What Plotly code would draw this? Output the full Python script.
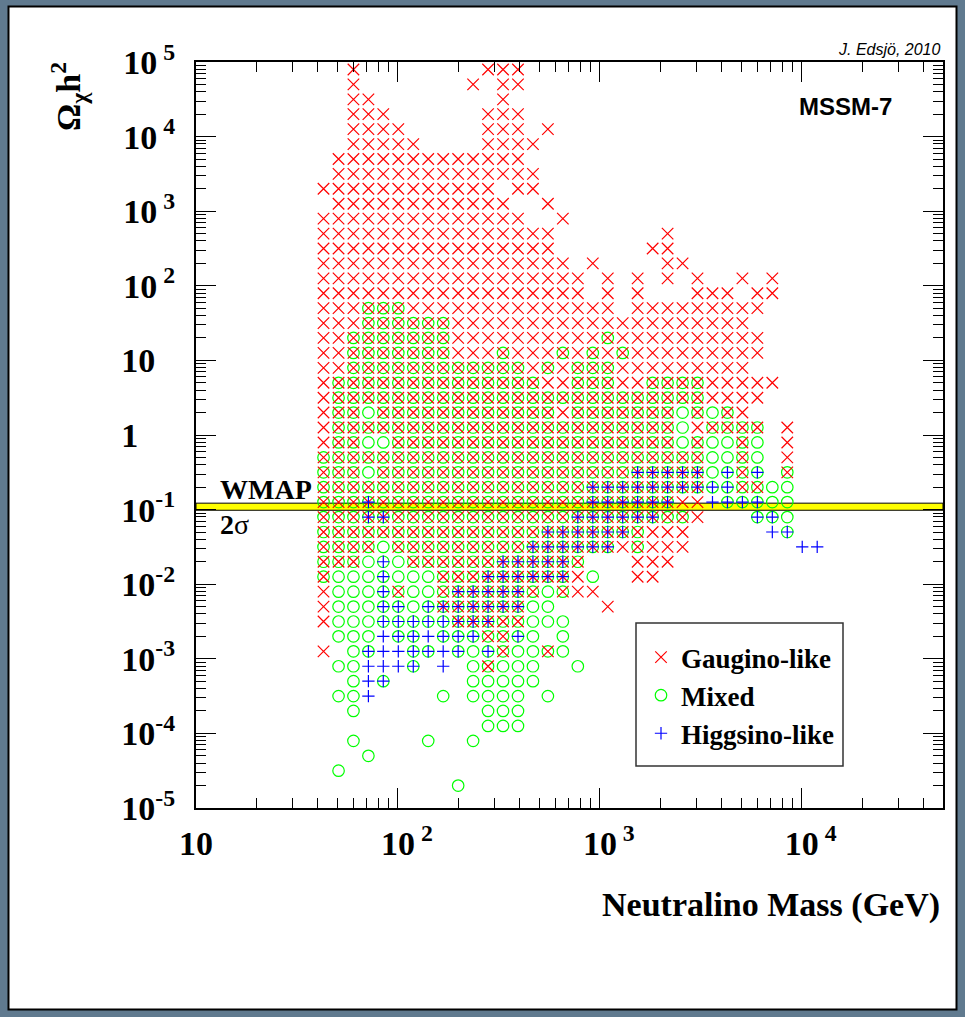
import plotly.graph_objects as go

# ---------------- data ----------------
# neutralino mass of each column of the scan grid (GeV)
mass_gev = [42.8, 50.8, 60.2, 71.4, 84.6, 100.4, 119.1, 141.2, 167.5, 198.7,
            235.6, 279.4, 331.4, 393.0, 466.1, 552.7, 655.5, 777.5, 922.2, 1094,
            1297, 1538, 1825, 2164, 2567, 3043, 3610, 4282, 5078, 6023,
            7143, 8470, 10045, 11914]

# relic density of each row of the scan grid (Omega h^2), top row first
omega_h2 = [7.94e4, 5.01e4, 3.16e4, 2.00e4, 1.26e4, 7.94e3, 5.01e3, 3.16e3, 2.00e3, 1.26e3,
            794, 501, 316, 200, 126, 79.4, 50.1, 31.6, 20.0, 12.6,
            7.94, 5.01, 3.16, 2.00, 1.26, 0.794, 0.501, 0.316, 0.200, 0.126,
            0.0794, 0.0501, 0.0316, 0.0200, 0.0126, 7.94e-3, 5.01e-3, 3.16e-3, 2.00e-3, 1.26e-3,
            7.94e-4, 5.01e-4, 3.16e-4, 2.00e-4, 1.26e-4, 7.94e-5, 5.01e-5, 3.16e-5, 2.00e-5]

# occupancy of each (row, column) cell; one string per row, columns in groups of 5
# x = gaugino-like, o = mixed, h = higgsino-like,
# a = gaugino+mixed, b = mixed+higgsino, c = all three, . = empty
model_grid = [
    "..x.. ..... .xxx. ..... ..... ..... ....",
    "..x.. ..... x.xx. ..... ..... ..... ....",
    "..xx. ..... ..x.. ..... ..... ..... ....",
    "..xxx ..... .xxx. ..... ..... ..... ....",
    "..xxx x.... .xxx. x.... ..... ..... ....",
    "..xxx xx... .xxxx ..... ..... ..... ....",
    ".xxxx xxxxx xxxx. ..... ..... ..... ....",
    ".xxxx xxxxx xxxxx ..... ..... ..... ....",
    "xxxxx xxxxx xx.xx ..... ..... ..... ....",
    ".xxxx xxxxx xxx.. x.... ..... ..... ....",
    "xxxxx xxxxx xxxx. .x... ..... ..... ....",
    "xxxxx xxxxx xxxxx x.... ...x. ..... ....",
    "xxxxx xxxxx xxxxx x.... ..xx. ..... ....",
    "xxxxx xxxxx xxxxx xx.x. ...xx ..... ....",
    "xxxxx xxxxx xxxxx xxx.x .x.x. x..x. x...",
    "xxxxx xxxxx xxxxx xxx.x .x... xxx.x x...",
    "xxxaa axxxx xxxxx xxxxx .xxxx xxxxx ....",
    "xxxaa aaaax xxxxx xxxxx xxxxx xxxx. ....",
    "xxaaa aaaax xxxxx xxxxa xxxxx xxxxx ....",
    "xxaaa aaaax xxaxx xaxax axxxx xxxxx ....",
    "xxaaa aaaaa aaaax axaaa xxxxx xxxx. ....",
    "xaaaa aaaaa aaaaa xxaaa xxaaa axxxx x...",
    "xaaaa aaaaa aaaaa aaaaa aaaaa axxxx ....",
    "xaaoa aaaaa aaaaa axaaa aaaao aoax. ....",
    "xaaaa aaaaa aaaaa aaaaa aaaao xaaaa .x..",
    "xaaoo aaaaa aaaaa aaaaa aaaao aooao .x..",
    "aaaaa aaaaa aaaaa aaaaa aaaaa aooao .x..",
    "aaaoa aaaaa aaaaa aaaaa acccc cobab .a..",
    "aaaaa aaaaa aaaaa aaacc ccccc cbbaa oo..",
    "aaaca aaaaa aaaaa aaacc ccccx xhbbb oo..",
    "aaacc aaaaa aaaaa aaccc cccaa x...b bo..",
    "aaaaa aaaaa aaaaa ccccc caxxx ..... hb..",
    "aaaao aaaaa aaaac ccccc xaxxx ..... ..hh",
    "aaaob oaaaa aaccc cca.. .xxx. ..... ....",
    "aooob oooaa acccc ccxo. .xx.. ..... ....",
    "xooob aooac cccca oaxx. ..... ..... ....",
    "xooob bobcc cccco o...x ..... ..... ....",
    "xooob bbbbc ccaao oo... ..... ..... ....",
    ".oooh bbhbb baabo .o... ..... ..... ....",
    "x.obh hbbhb obaoo ao... ..... ..... ....",
    ".oohh hb.h. oaooo ..o.. ..... ..... ....",
    "..ohb ..... ooooo ..... ..... ..... ....",
    ".ooh. ...o. oooo. o.... ..... ..... ....",
    "..o.. ..... .ooo. ..... ..... ..... ....",
    "..... ..... .ooo. ..... ..... ..... ....",
    "..o.. ..o.. o.... ..... ..... ..... ....",
    "...o. ..... ..... ..... ..... ..... ....",
    ".o... ..... ..... ..... ..... ..... ....",
    "..... ....o ..... ..... ..... ..... ....",
]

series_names = ["Gaugino-like", "Mixed", "Higgsino-like"]
series_codes = {"Gaugino-like": "xac", "Mixed": "oabc", "Higgsino-like": "hbc"}

wmap_low, wmap_high = 0.098, 0.122          # WMAP 2 sigma band
x_range_gev = [10, 50000]
x_tick_exponents = [1, 2, 3, 4]
y_tick_exponents = [5, 4, 3, 2, 1, 0, -1, -2, -3, -4, -5]

# ---------------- styles ----------------
SERIF = "Liberation Serif"
SANS = "Liberation Sans"
styles = {
    "Gaugino-like": dict(symbol="x-thin", size=11.5, color="#ff0000"),
    "Mixed": dict(symbol="circle-open", size=11.5, color="#00ff00"),
    "Higgsino-like": dict(symbol="cross-thin", size=8.8, color="#0000ff"),
}
draw_order = ["Mixed", "Gaugino-like", "Higgsino-like"]


def series_points(codes):
    xs, ys = [], []
    for r, row in enumerate(model_grid):
        cells = row.replace(" ", "")
        for c, ch in enumerate(cells):
            if ch in codes:
                xs.append(mass_gev[c])
                ys.append(omega_h2[r])
    return xs, ys


def clear(txt):
    return "<span style='color:rgba(0,0,0,0)'>" + txt + "</span>"


def y_label(n):
    if n == 0:
        return "1" + clear("0") + "<sup>" + clear("-1") + "</sup>"
    if n == 1:
        return "10<sup>" + clear("-1") + "</sup>"
    if n > 1:
        return "10<sup>\u00a0%d</sup>" % n
    return "10<sup>%d</sup>" % n


def x_label(n):
    if n == 1:
        return "10"
    return "<sup>" + clear("\u00a0%d" % n) + "</sup>10<sup>\u00a0%d</sup>" % n


fig = go.Figure()

# WMAP band
fig.add_trace(go.Scatter(
    x=[x_range_gev[0], x_range_gev[1], x_range_gev[1], x_range_gev[0], x_range_gev[0]],
    y=[wmap_low, wmap_low, wmap_high, wmap_high, wmap_low],
    mode="lines", fill="toself", fillcolor="#ffff00",
    line=dict(color="black", width=1), showlegend=False, hoverinfo="skip"))

for name in draw_order:
    xs, ys = series_points(series_codes[name])
    st = styles[name]
    fig.add_trace(go.Scatter(
        x=xs, y=ys, mode="markers", name=name,
        legendrank=series_names.index(name) + 1,
        marker=dict(symbol=st["symbol"], size=st["size"], color=st["color"],
                    line=dict(color=st["color"], width=1.2))))

W, H = 965, 1017
L, R, T, B = 196, 22, 62, 209
pw, ph = W - L - R, H - T - B


def px(x):
    return (x - L) / pw


def py(y):
    return (H - B - y) / ph


axis_common = dict(
    type="log", showline=True, linecolor="black", linewidth=2, mirror="ticks",
    ticks="inside", ticklen=20, tickwidth=1, tickcolor="black",
    showgrid=False, zeroline=False,
    tickfont=dict(family=SERIF, size=34, color="black", weight="bold"),
    minor=dict(ticks="inside", ticklen=10, tickwidth=1, tickcolor="black",
               dtick="D1", showgrid=False),
)

fig.update_layout(
    width=W, height=H, autosize=False,
    margin=dict(l=L, r=R, t=T, b=B, pad=0),
    paper_bgcolor="#607a8f", plot_bgcolor="white",
    showlegend=True,
    legend=dict(x=px(641), y=py(633), xanchor="left", yanchor="top",
                bgcolor="rgba(0,0,0,0)", borderwidth=0,
                font=dict(family=SERIF, size=27, color="black", weight="bold"),
                itemsizing="trace", tracegroupgap=0),
    xaxis=dict(axis_common, range=[1, 4.699],
               tickvals=[10 ** n for n in x_tick_exponents],
               ticktext=[x_label(n) for n in x_tick_exponents],
               ticklabelstandoff=4),
    yaxis=dict(axis_common, range=[-5, 5],
               tickvals=[10 ** n for n in y_tick_exponents],
               ticktext=[y_label(n) for n in y_tick_exponents],
               ticklabelstandoff=12),
)

# white canvas with black frame, and legend box
fig.add_shape(type="rect", xref="paper", yref="paper",
              x0=px(8.5), x1=px(956.5), y0=py(1009.5), y1=py(6.5),
              line=dict(color="black", width=2), fillcolor="white", layer="below")
fig.add_shape(type="rect", xref="paper", yref="paper",
              x0=px(636), x1=px(843), y0=py(766), y1=py(623),
              line=dict(color="#333333", width=1.5), fillcolor="white", layer="above")

annos = [
    dict(text="J. Edsjö, 2010", x=px(943), y=py(49), xanchor="right", yanchor="middle",
         font=dict(family=SANS, size=16, color="black", style="italic")),
    dict(text="MSSM-7", x=px(894), y=py(106), xanchor="right", yanchor="middle",
         font=dict(family=SANS, size=24, color="black", weight="bold")),
    dict(text="WMAP", x=px(218), y=py(489), xanchor="left", yanchor="middle",
         font=dict(family=SERIF, size=28, color="black", weight="bold")),
    dict(text="<b>2</b>σ", x=px(218), y=py(524), xanchor="left", yanchor="middle",
         font=dict(family=SERIF, size=28, color="black")),
    dict(text="Neutralino Mass (GeV)", x=px(942), y=py(905), xanchor="right", yanchor="middle",
         font=dict(family=SERIF, size=34, color="black", weight="bold")),
    dict(text="Ω<sub>χ</sub>h<sup>2</sup>", x=px(68), y=py(97), xanchor="center", yanchor="middle",
         textangle=-90, font=dict(family=SERIF, size=34, color="black", weight="bold")),
]
for a in annos:
    fig.add_annotation(xref="paper", yref="paper", showarrow=False, **a)

fig.write_html("out.html")
